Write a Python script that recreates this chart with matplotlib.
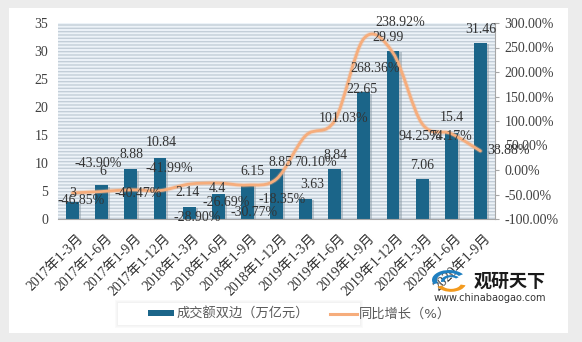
import numpy as np
import matplotlib
matplotlib.use("Agg")
import matplotlib.pyplot as plt
from matplotlib.path import Path
from matplotlib.patches import PathPatch, Rectangle, Patch, Wedge
from matplotlib.lines import Line2D
import matplotlib.patheffects as pe
import matplotlib.transforms as mtransforms

periods = ["2017年1-3月", "2017年1-6月", "2017年1-9月", "2017年1-12月",
           "2018年1-3月", "2018年1-6月", "2018年1-9月", "2018年1-12月",
           "2019年1-3月", "2019年1-6月", "2019年1-9月", "2019年1-12月",
           "2020年1-3月", "2020年1-6月", "2020年1-9月"]
turnover = [3, 6, 8.88, 10.84, 2.14, 4.4, 6.15, 8.85, 3.63, 8.84, 22.65, 29.99, 7.06, 15.4, 31.46]
turnover_txt = ["3", "6", "8.88", "10.84", "2.14", "4.4", "6.15", "8.85", "3.63", "8.84",
                "22.65", "29.99", "7.06", "15.4", "31.46"]
growth = [-46.85, -43.90, -40.47, -41.99, -28.90, -26.69, -30.77, -18.35,
          70.10, 101.03, 268.36, 238.92, 94.25, 74.17, 38.88]

# label nudges in pixels (dx, dy), Excel had them dragged around by hand
bar_off = [(0, 9), (1, 14), (1, 15), (1, 16), (-2, 15), (-1, 6), (5, 13), (4, 7),
           (7, 14), (1, 14), (-2, 3), (-5, 14), (0, 14), (1, 15), (0, 13)]
pct_off = [(9, -8), (-4, 28), (7, -4), (9, 22), (8, -33), (8, -19), (7, -27), (6, -21),
           (10, -27), (9, 2), (11, -30), (7, 30), (-2, -13), (-1, -3), (28, 0)]

BAR = "#1b6589"
LINE = "#f6ad7c"
TXT = "#333333"
NUMFONT = ["Liberation Serif", "Noto Sans CJK SC"]

plt.rcParams["font.family"] = ["DejaVu Sans", "Noto Sans CJK SC"]
plt.rcParams["hatch.linewidth"] = 1.0

fig = plt.figure(figsize=(5.82, 3.42), dpi=100, facecolor="#ececec")
W, H = 582.0, 342.0

# white card
fig.patches.append(Rectangle((9 / W, (342 - 333) / H), 559 / W, 325 / H, transform=fig.transFigure,
                             facecolor="white", edgecolor="none", zorder=-5))

ax = fig.add_axes([58 / W, 1 - 219 / H, (495 - 58) / W, (219 - 23) / H])
ax.set_facecolor("none")
ax.add_patch(Rectangle((0, 0), 1, 1, transform=ax.transAxes, facecolor="#edf3f8",
                       edgecolor="#c3ced8", hatch="-----", lw=0, zorder=0))

x = np.arange(len(periods))
bars = ax.bar(x, turnover, width=0.44, color=BAR, zorder=2,
              path_effects=[pe.SimplePatchShadow(offset=(1.5, -1), shadow_rgbFace="#8a9aa5", alpha=0.5), pe.Normal()])
ax.set_xlim(-0.5, len(periods) - 0.5)
ax.set_ylim(0, 35)
ax.set_yticks(range(0, 36, 5))
ax.tick_params(axis="y", length=0, labelsize=10, labelcolor="#404040", pad=7)
ax.tick_params(axis="x", length=0, pad=9)
ax.set_xticks(x)
ax.set_xticklabels(periods, rotation=45, ha="right", va="top", rotation_mode="anchor",
                   fontsize=10, color=TXT, family=NUMFONT)
shift = mtransforms.ScaledTranslation(4 / 100, 0, fig.dpi_scale_trans)
for lab in ax.get_xticklabels():
    lab.set_transform(lab.get_transform() + shift)
for lab in ax.get_yticklabels():
    lab.set_family(NUMFONT)
for s in ["top", "left", "right"]:
    ax.spines[s].set_visible(False)
ax.spines["bottom"].set_color("#a6a6a6")

ax2 = ax.twinx()
ax2.set_ylim(-100, 300)
ax2.set_yticks(range(-100, 301, 50))
ax2.set_yticklabels(["%.2f%%" % v for v in range(-100, 301, 50)], family=NUMFONT)
ax2.tick_params(axis="y", length=3, color="#a6a6a6", labelsize=10, labelcolor="#404040", pad=4)
for s in ["top", "left", "bottom"]:
    ax2.spines[s].set_visible(False)
ax2.spines["right"].set_color("#a6a6a6")

# smoothed line (catmull-rom style bezier through the points)
pts = np.column_stack([x, growth]).astype(float)
verts = [pts[0]]
codes = [Path.MOVETO]
for i in range(len(pts) - 1):
    p0 = pts[max(i - 1, 0)]
    p1 = pts[i]
    p2 = pts[i + 1]
    p3 = pts[min(i + 2, len(pts) - 1)]
    verts += [p1 + (p2 - p0) / 6, p2 - (p3 - p1) / 6, p2]
    codes += [Path.CURVE4] * 3
ax2.add_patch(PathPatch(Path(verts, codes), facecolor="none", edgecolor=LINE, lw=2.0, zorder=3,
                        capstyle="round",
                        path_effects=[pe.Stroke(linewidth=3.4, foreground=LINE, alpha=0.3), pe.Normal()]))

for i in range(len(x)):
    ax2.annotate(turnover_txt[i], (x[i], turnover[i] * 400 / 35 - 100), xytext=bar_off[i],
                 textcoords="offset pixels", ha="center", va="center", fontsize=10,
                 color=TXT, family=NUMFONT, zorder=5)
    ax2.annotate("%.2f%%" % growth[i], (x[i], growth[i]), xytext=pct_off[i],
                 textcoords="offset pixels", ha="center", va="center", fontsize=10,
                 color=TXT, family=NUMFONT, zorder=5)

# legend box with a soft shadow
for k in range(3, 0, -1):
    fig.patches.append(Rectangle(((118 - k) / W, 1 - (325 + k) / H), (242 + 2 * k) / W, (22 + 2 * k) / H,
                                 transform=fig.transFigure, facecolor="#dddddd", alpha=0.12,
                                 edgecolor="none", zorder=1))
fig.patches.append(Rectangle((118 / W, 1 - 325 / H), 242 / W, 22 / H, transform=fig.transFigure,
                             facecolor="white", edgecolor="none", zorder=1))
handles = [Patch(facecolor=BAR, edgecolor="none"), Line2D([], [], color=LINE, lw=2.2)]
leg = fig.legend(handles, ["成交额双边（万亿元）", "同比增长（%）"], loc="center left",
                 bbox_to_anchor=(141 / W, 1 - 314 / H), ncol=2, frameon=False, fontsize=9.5,
                 handlelength=2.0, handleheight=0.35, handletextpad=0.2, columnspacing=1.6,
                 borderpad=0, labelcolor="#595959")

# watermark logo
fig.patches.append(Wedge((449 / W, 1 - 280 / H), 17 / W, 35, 205, width=5 / W, transform=fig.transFigure,
                         facecolor="#1f7fc0", edgecolor="none", zorder=6))
fig.patches.append(Wedge((451 / W, 1 - 281 / H), 10 / W, 40, 190, width=3.5 / W, transform=fig.transFigure,
                         facecolor="#1f7fc0", edgecolor="none", zorder=6))
fig.patches.append(Wedge((451 / W, 1 - 283 / H), 15 / W, 205, 345, width=5 / W, transform=fig.transFigure,
                         facecolor="#f39a1e", edgecolor="none", zorder=6))
fig.text(474 / W, 1 - 281 / H, "观研天下", fontsize=13, fontweight="bold", color="#1a1a1a",
         family=["Noto Sans CJK SC"], va="center", ha="left", zorder=6)
fig.text(490 / W, 1 - 298 / H, "www.chinabaogao.com", fontsize=7, color="#333333",
         va="center", ha="center", zorder=6)

fig.savefig("out.png", dpi=100, facecolor=fig.get_facecolor())
